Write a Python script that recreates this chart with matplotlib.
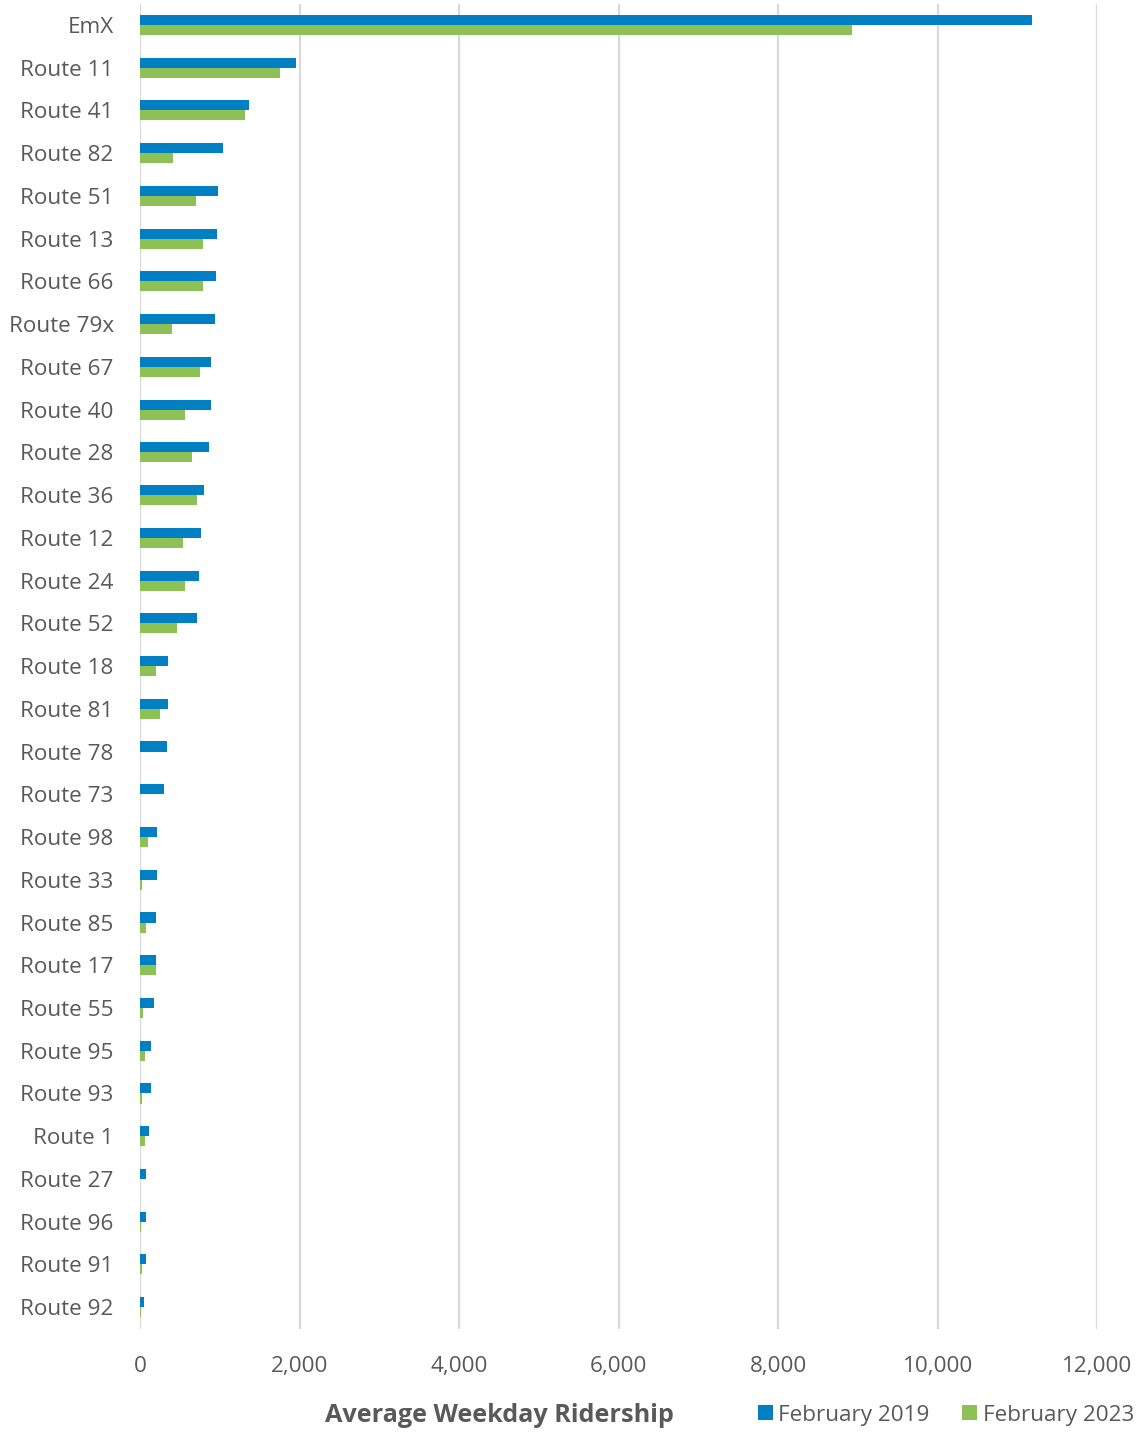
import numpy as np
import matplotlib.pyplot as plt

plt.rcParams['font.family'] = ['Open Sans', 'DejaVu Sans']

routes = ['EmX', 'Route 11', 'Route 41', 'Route 82', 'Route 51', 'Route 13',
          'Route 66', 'Route 79x', 'Route 67', 'Route 40', 'Route 28',
          'Route 36', 'Route 12', 'Route 24', 'Route 52', 'Route 18',
          'Route 81', 'Route 78', 'Route 73', 'Route 98', 'Route 33',
          'Route 85', 'Route 17', 'Route 55', 'Route 95', 'Route 93',
          'Route 1', 'Route 27', 'Route 96', 'Route 91', 'Route 92']
feb_2019 = [11180, 1950, 1363, 1040, 973, 960, 952, 943, 885, 885, 868,
            805, 759, 742, 709, 348, 348, 340, 306, 214, 214, 205, 197,
            172, 138, 138, 113, 80, 80, 72, 54]
feb_2023 = [8930, 1757, 1312, 419, 700, 793, 784, 407, 746, 566, 650,
            709, 533, 566, 465, 197, 248, 0, 0, 97, 21, 72, 197,
            38, 63, 29, 63, 0, 10, 29, 15]

blue = '#0080C3'
green = '#8DC055'
grey_txt = '#595959'

fig = plt.figure(figsize=(11.43, 14.33), dpi=100)
ax = fig.add_axes([0.1225, 0.0729, 0.8375, 0.9246])

y = np.arange(len(routes))
h = 0.235
ax.barh(y - h / 2, feb_2019, height=h, color=blue, label='February 2019', zorder=3)
ax.barh(y + h / 2, feb_2023, height=h, color=green, label='February 2023', zorder=3)

ax.set_ylim(len(routes) - 0.5, -0.5)
ax.set_xlim(0, 12000)
ax.set_yticks(y)
ax.set_yticklabels(routes)
ax.set_xticks(np.arange(0, 12001, 2000))
ax.xaxis.set_major_formatter(plt.FuncFormatter(lambda v, p: f'{int(v):,}'))
ax.grid(axis='x', color='#D9D9D9', linewidth=1.6, zorder=0)
for s in ax.spines.values():
    s.set_visible(False)
ax.tick_params(length=0, labelsize=16.2, labelcolor=grey_txt)
ax.tick_params(axis='y', pad=19)
ax.tick_params(axis='x', pad=20)

fig.text(0.4366, 0.0125, 'Average Weekday Ridership', ha='center', va='center',
         fontsize=18.2, fontweight='bold', color=grey_txt)
fig.legend(loc='center right', bbox_to_anchor=(1.0, 0.0125), ncol=2,
           frameon=False, fontsize=16.2, labelcolor=grey_txt,
           handlelength=0.65, handleheight=0.65, handletextpad=0.25,
           columnspacing=1.45, borderaxespad=0.0)

fig.savefig('out.png', dpi=100, facecolor='white')
